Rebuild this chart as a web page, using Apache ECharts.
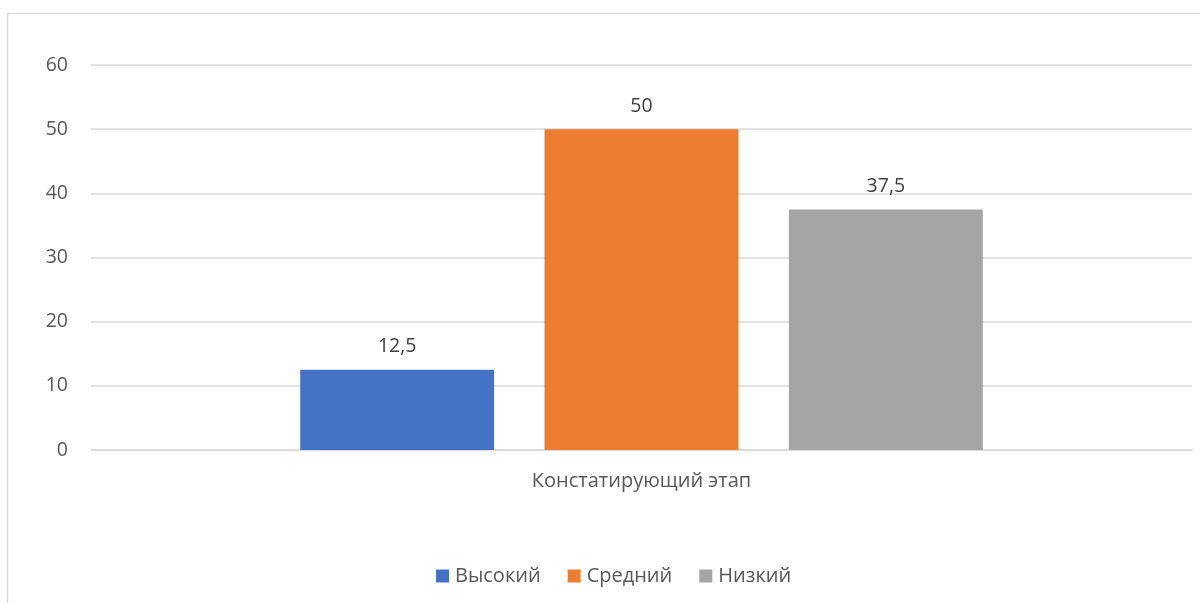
<!DOCTYPE html>
<html><head><meta charset="utf-8">
<script src="https://cdn.jsdelivr.net/npm/echarts@6/dist/echarts.min.js"></script>
<style>html,body{margin:0;padding:0;background:#fff}#c{width:1200px;height:603px}</style>
</head><body><div id="c"></div>
<script>
const categories = ['Констатирующий этап'];
const seriesNames = ['Высокий', 'Средний', 'Низкий'];
const vysokiy = [12.5];
const sredniy = [50];
const nizkiy = [37.5];
const colors = ['#4472C4', '#ED7D31', '#A5A5A5'];
const font = 'Open Sans';
const chart = echarts.init(document.getElementById('c'));
const fmt = p => String(p.value).replace('.', ',');
const mk = (name, data, color) => ({
  name, type: 'bar', data, barGap: '26%', barCategoryGap: '38%',
  itemStyle: { color },
  label: { show: true, position: 'top', distance: 13, formatter: fmt, color: '#404040', fontSize: 19.5, fontFamily: font }
});
chart.setOption({
  animation: false,
  color: colors,
  graphic: [{ type: 'rect', shape: { x: 7.5, y: 13.5, width: 1200, height: 600 }, style: { fill: 'none', stroke: '#d9d9d9', lineWidth: 1.5 } }],
  grid: { left: 91, right: 8, top: 65, bottom: 153 },
  legend: {
    bottom: 12, left: 431, itemWidth: 13, itemHeight: 13, itemGap: 27, icon: 'rect',
    textStyle: { color: '#595959', fontSize: 20, fontFamily: font, padding: [0, 0, 0, 1] }
  },
  xAxis: {
    type: 'category', data: categories,
    axisLine: { lineStyle: { color: '#d9d9d9', width: 1.5 } }, axisTick: { show: false },
    axisLabel: { color: '#595959', fontSize: 20, fontFamily: font, margin: 21 }
  },
  yAxis: {
    type: 'value', min: 0, max: 60, interval: 10,
    axisLine: { show: false }, axisTick: { show: false },
    splitLine: { lineStyle: { color: '#d9d9d9', width: 1.5 } },
    axisLabel: { color: '#595959', fontSize: 19.5, fontFamily: font, margin: 23 }
  },
  series: [mk(seriesNames[0], vysokiy, colors[0]), mk(seriesNames[1], sredniy, colors[1]), mk(seriesNames[2], nizkiy, colors[2])]
});
</script></body></html>
